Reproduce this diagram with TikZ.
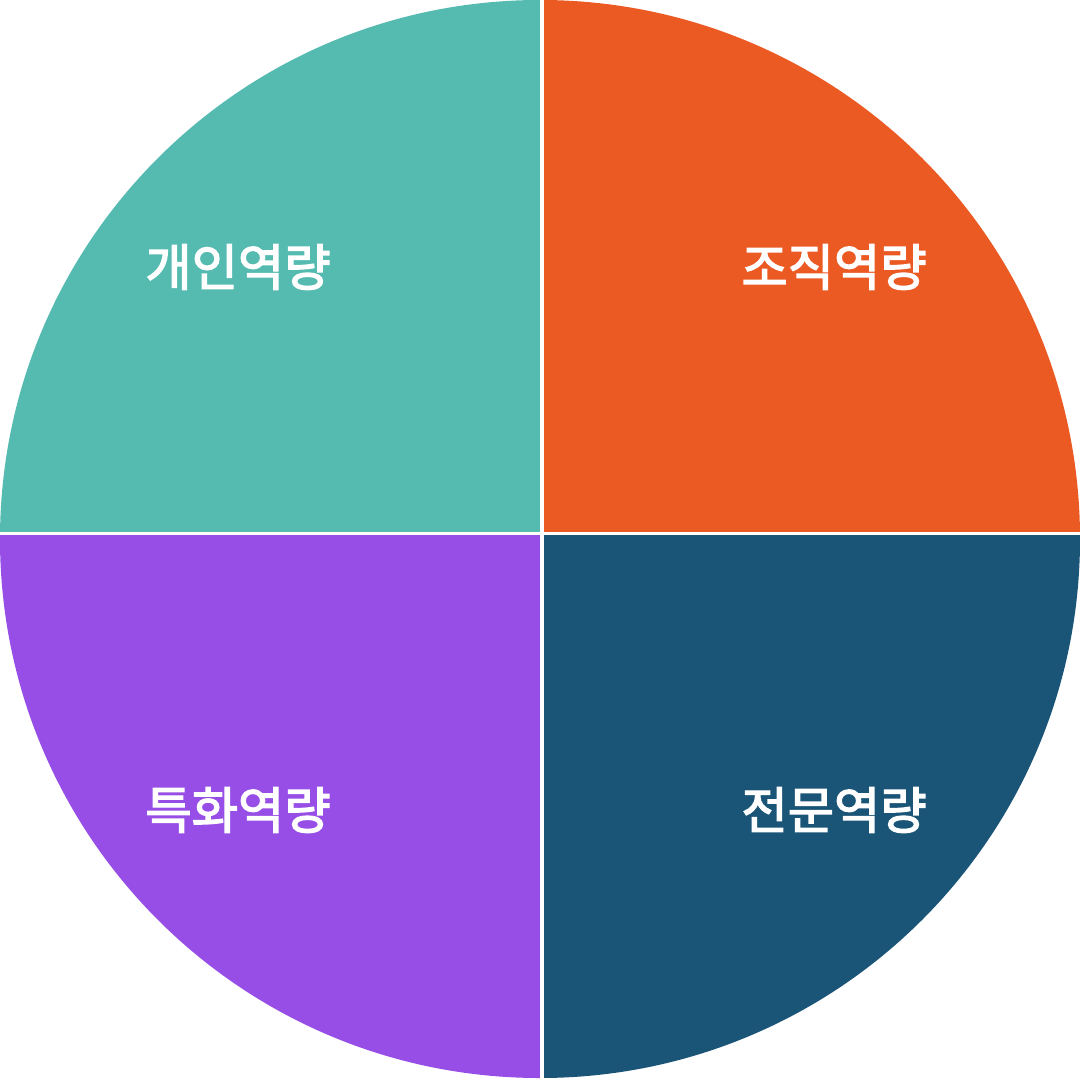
\documentclass[tikz,border=0pt]{standalone}
\usepackage{fontspec}
\newfontfamily\kofont{Noto Sans CJK KR}[FakeBold=2.8]
\usetikzlibrary{positioning}
\definecolor{qteal}{HTML}{55BBB1}
\definecolor{qorange}{HTML}{EC5A24}
\definecolor{qnavy}{HTML}{1A5578}
\definecolor{qpurple}{HTML}{974EE6}
\tikzset{
  lbl/.style={text=white, inner sep=0pt, font=\kofont\fontsize{14.3}{16}\selectfont},
  gap/.style={draw=white, line width=0.4mm},
}
\newcommand{\QuartFill}[2]{%
  \begin{scope}
    \clip #2;
    \fill[#1] (540,539) ellipse [x radius=540, y radius=539];
  \end{scope}
}
\begin{document}
\begin{tikzpicture}[x=0.01cm, y=-0.01cm]
  \useasboundingbox (0,0) rectangle (1080,1080);
  \QuartFill{qteal}{(0,0) rectangle (542,533.5)}
  \QuartFill{qorange}{(542,0) rectangle (1080,533.5)}
  \QuartFill{qpurple}{(0,533.5) rectangle (542,1080)}
  \QuartFill{qnavy}{(542,533.5) rectangle (1080,1080)}
  \coordinate (ctr) at (542,533.5);
  \coordinate (top) at (542,0);
  \coordinate (bot) at (542,1080);
  \coordinate (lft) at (0,533.5);
  \coordinate (rgt) at (1080,533.5);
  \draw[gap] (top) -- (bot);
  \draw[gap, line width=0.3mm] (lft) -- (rgt);
  \node[lbl] (gaein) at (238,267) {개인역량};
  \node[lbl] (jojik) at (834,267) {조직역량};
  \node[lbl] (teukhwa) at (238,810) {특화역량};
  \node[lbl] (jeonmun) at (834,810) {전문역량};
\end{tikzpicture}
\end{document}
